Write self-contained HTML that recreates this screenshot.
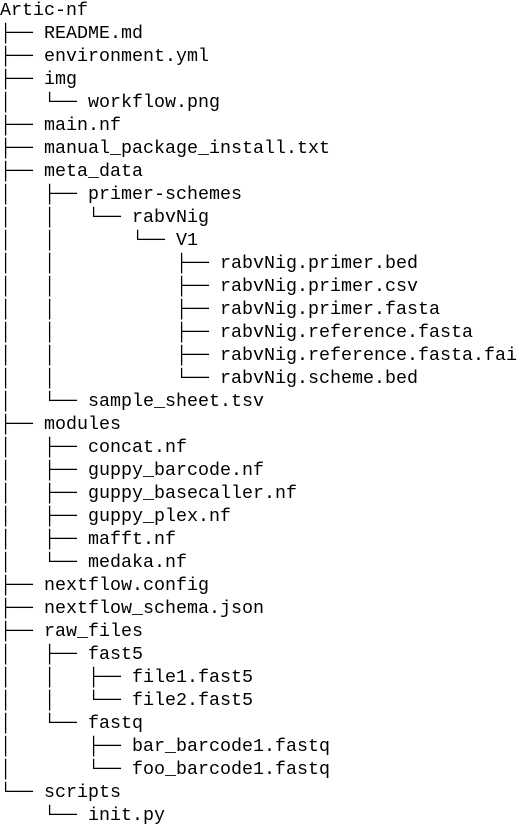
<!DOCTYPE html>
<html><head><style>
html,body{margin:0;padding:0;background:#fff;width:530px;height:839px;overflow:hidden}
pre{margin:0;padding:0 0 0 0;font-family:"Liberation Mono","DejaVu Sans Mono",monospace;font-size:18.33px;line-height:23px;color:#000;position:relative;top:-1px}
</style></head><body><pre>Artic-nf
├── README.md
├── environment.yml
├── img
│   └── workflow.png
├── main.nf
├── manual_package_install.txt
├── meta_data
│   ├── primer-schemes
│   │   └── rabvNig
│   │       └── V1
│   │           ├── rabvNig.primer.bed
│   │           ├── rabvNig.primer.csv
│   │           ├── rabvNig.primer.fasta
│   │           ├── rabvNig.reference.fasta
│   │           ├── rabvNig.reference.fasta.fai
│   │           └── rabvNig.scheme.bed
│   └── sample_sheet.tsv
├── modules
│   ├── concat.nf
│   ├── guppy_barcode.nf
│   ├── guppy_basecaller.nf
│   ├── guppy_plex.nf
│   ├── mafft.nf
│   └── medaka.nf
├── nextflow.config
├── nextflow_schema.json
├── raw_files
│   ├── fast5
│   │   ├── file1.fast5
│   │   └── file2.fast5
│   └── fastq
│       ├── bar_barcode1.fastq
│       └── foo_barcode1.fastq
└── scripts
    └── init.py
</pre></body></html>
